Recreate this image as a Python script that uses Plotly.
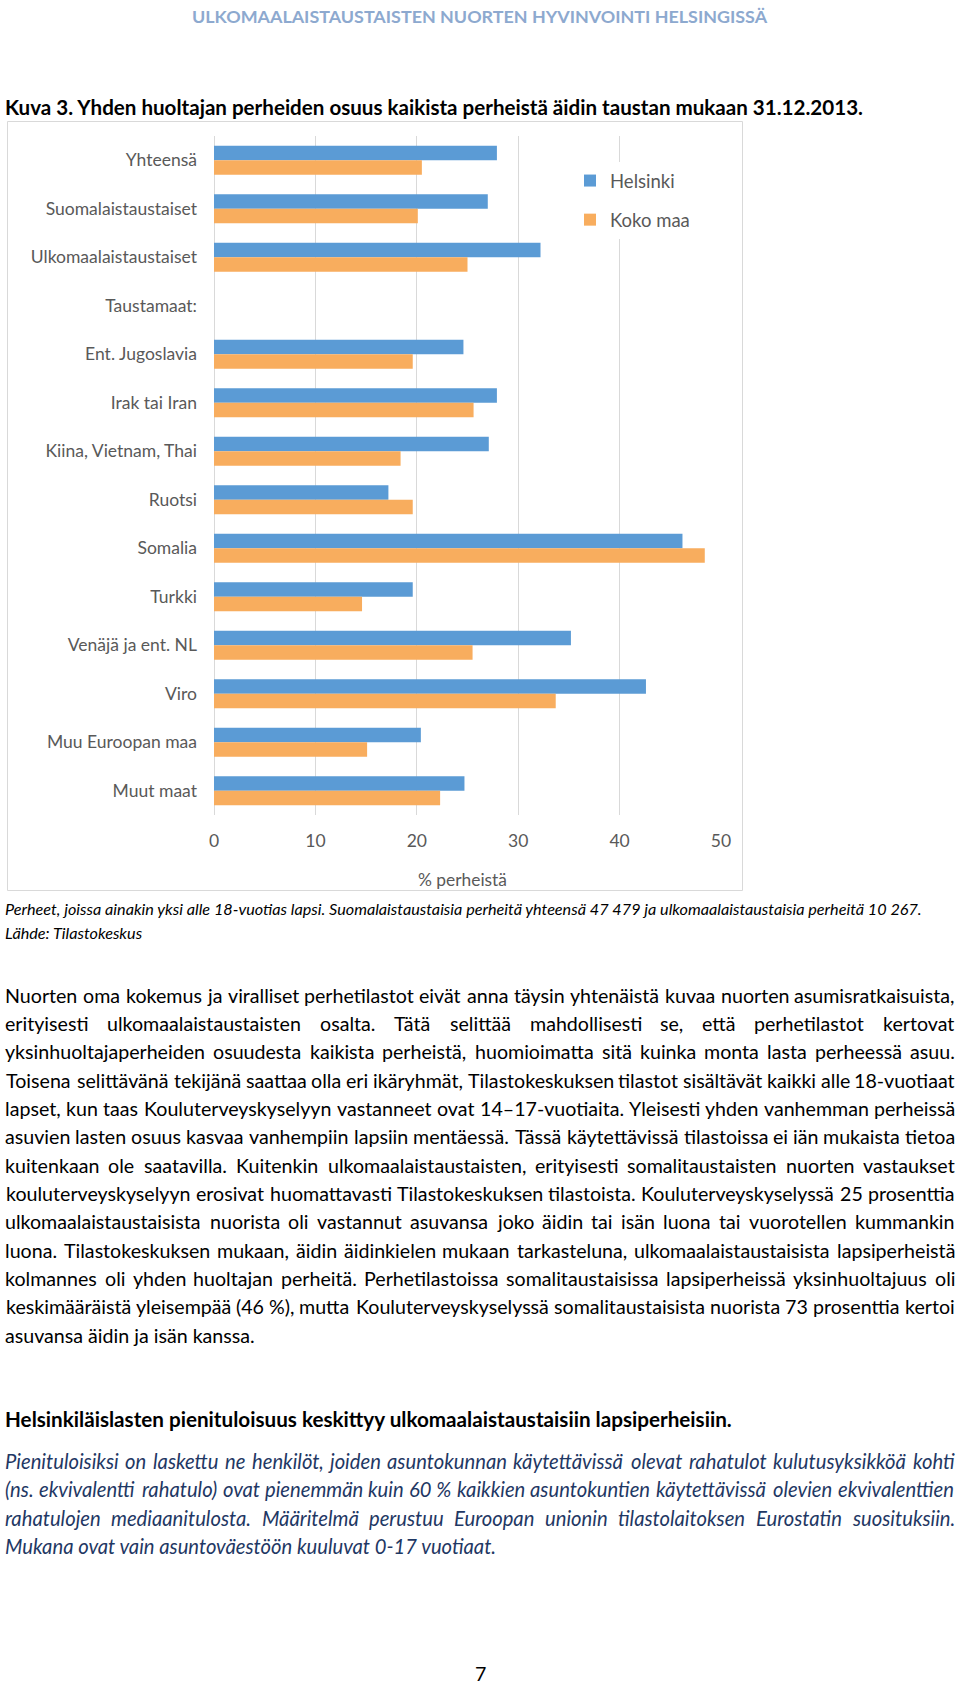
import os, glob, struct
import plotly.graph_objects as go

# ---------------- data ----------------
categories = ["Yhteensä", "Suomalaistaustaiset", "Ulkomaalaistaustaiset", "Taustamaat:",
              "Ent. Jugoslavia", "Irak tai Iran", "Kiina, Vietnam, Thai", "Ruotsi", "Somalia",
              "Turkki", "Venäjä ja ent. NL", "Viro", "Muu Euroopan maa", "Muut maat"]
helsinki = [27.9, 27.0, 32.2, None, 24.6, 27.9, 27.1, 17.2, 46.2, 19.6, 35.2, 42.6, 20.4, 24.7]
koko_maa = [20.5, 20.1, 25.0, None, 19.6, 25.6, 18.4, 19.6, 48.4, 14.6, 25.5, 33.7, 15.1, 22.3]
series_names = ["Helsinki", "Koko maa"]
x_ticks = [0, 10, 20, 30, 40, 50]
x_title = "% perheistä"

header = "ULKOMAALAISTAUSTAISTEN NUORTEN HYVINVOINTI HELSINGISSÄ"
title = "Kuva 3. Yhden huoltajan perheiden osuus kaikista perheistä äidin taustan mukaan 31.12.2013."
caption = ["Perheet, joissa ainakin yksi alle 18-vuotias lapsi. Suomalaistaustaisia perheitä yhteensä 47 479 ja ulkomaalaistaustaisia perheitä 10 267.",
           "Lähde: Tilastokeskus"]
body = [
    "Nuorten oma kokemus ja viralliset perhetilastot eivät anna täysin yhtenäistä kuvaa nuorten asumisratkaisuista,",
    "erityisesti ulkomaalaistaustaisten osalta. Tätä selittää mahdollisesti se, että perhetilastot kertovat",
    "yksinhuoltajaperheiden osuudesta kaikista perheistä, huomioimatta sitä kuinka monta lasta perheessä asuu.",
    "Toisena selittävänä tekijänä saattaa olla eri ikäryhmät, Tilastokeskuksen tilastot sisältävät kaikki alle 18-vuotiaat",
    "lapset, kun taas Kouluterveyskyselyyn vastanneet ovat 14–17-vuotiaita. Yleisesti yhden vanhemman perheissä",
    "asuvien lasten osuus kasvaa vanhempiin lapsiin mentäessä. Tässä käytettävissä tilastoissa ei iän mukaista tietoa",
    "kuitenkaan ole saatavilla. Kuitenkin ulkomaalaistaustaisten, erityisesti somalitaustaisten nuorten vastaukset",
    "kouluterveyskyselyyn erosivat huomattavasti Tilastokeskuksen tilastoista. Kouluterveyskyselyssä 25 prosenttia",
    "ulkomaalaistaustaisista nuorista oli vastannut asuvansa joko äidin tai isän luona tai vuorotellen kummankin",
    "luona. Tilastokeskuksen mukaan, äidin äidinkielen mukaan tarkasteluna, ulkomaalaistaustaisista lapsiperheistä",
    "kolmannes oli yhden huoltajan perheitä. Perhetilastoissa somalitaustaisissa lapsiperheissä yksinhuoltajuus oli",
    "keskimääräistä yleisempää (46\u00a0%), mutta Kouluterveyskyselyssä somalitaustaisista nuorista 73 prosenttia kertoi",
    "asuvansa äidin ja isän kanssa.",
]
heading = "Helsinkiläislasten pienituloisuus keskittyy ulkomaalaistaustaisiin lapsiperheisiin."
blue_par = [
    "Pienituloisiksi on laskettu ne henkilöt, joiden asuntokunnan käytettävissä olevat rahatulot kulutusyksikköä kohti",
    "(ns. ekvivalentti rahatulo) ovat pienemmän kuin 60\u00a0% kaikkien asuntokuntien käytettävissä olevien ekvivalenttien",
    "rahatulojen mediaanitulosta. Määritelmä perustuu Euroopan unionin tilastolaitoksen Eurostatin suosituksiin.",
    "Mukana ovat vain asuntoväestöön kuuluvat 0-17 vuotiaat.",
]
page_no = "7"

# ---------------- font metrics (for justified text) ----------------
FAM = "Lato"


def find_font(fname):
    roots = ['/usr/share/fonts', '/usr/local/share/fonts',
             os.path.expanduser('~/.fonts'), os.path.expanduser('~/.local/share/fonts')]
    for r in roots:
        hits = glob.glob(os.path.join(r, '**', fname), recursive=True)
        if hits:
            return hits[0]
    return None


class Metrics:
    def __init__(self, fname, fallback=0.5):
        self.ok = False
        self.fallback = fallback
        path = find_font(fname)
        if path:
            try:
                self._parse(open(path, 'rb').read())
                self.ok = True
            except Exception:
                self.ok = False

    def _parse(self, d):
        n = struct.unpack('>H', d[4:6])[0]
        tabs = {}
        for i in range(n):
            tag, cs, off, ln = struct.unpack('>4sIII', d[12 + 16 * i:28 + 16 * i])
            tabs[tag.decode('latin1')] = off
        h = tabs['head']
        self.upem = struct.unpack('>H', d[h + 18:h + 20])[0]
        hh = tabs['hhea']
        nhm = struct.unpack('>H', d[hh + 34:hh + 36])[0]
        hm = tabs['hmtx']
        self.adv = [struct.unpack('>H', d[hm + 4 * i:hm + 4 * i + 2])[0] for i in range(nhm)]
        cm = tabs['cmap']
        nt = struct.unpack('>H', d[cm + 2:cm + 4])[0]
        best = None
        for i in range(nt):
            pid, eid, off = struct.unpack('>HHI', d[cm + 4 + 8 * i:cm + 12 + 8 * i])
            fmt = struct.unpack('>H', d[cm + off:cm + off + 2])[0]
            if fmt == 4 and (best is None or (pid == 3 and eid == 1)):
                best = cm + off
        o = best
        segx2 = struct.unpack('>H', d[o + 6:o + 8])[0]
        seg = segx2 // 2
        self.ends = struct.unpack('>%dH' % seg, d[o + 14:o + 14 + segx2])
        self.starts = struct.unpack('>%dH' % seg, d[o + 16 + segx2:o + 16 + 2 * segx2])
        self.deltas = struct.unpack('>%dh' % seg, d[o + 16 + 2 * segx2:o + 16 + 3 * segx2])
        self.rpos = o + 16 + 3 * segx2
        self.roffs = struct.unpack('>%dH' % seg, d[self.rpos:self.rpos + segx2])
        self.d = d
        self.cache = {}

    def gid(self, c):
        for i in range(len(self.ends)):
            if self.ends[i] >= c:
                if self.starts[i] > c:
                    return 0
                if self.roffs[i] == 0:
                    return (c + self.deltas[i]) & 0xFFFF
                a = self.rpos + 2 * i + self.roffs[i] + 2 * (c - self.starts[i])
                g = struct.unpack('>H', self.d[a:a + 2])[0]
                return (g + self.deltas[i]) & 0xFFFF if g else 0
        return 0

    def w(self, s, size):
        if not self.ok:
            return sum((0.25 if ch in ' \u00a0' else self.fallback) for ch in s) * size
        tot = 0
        for ch in s:
            if ch not in self.cache:
                g = self.gid(ord(ch))
                self.cache[ch] = self.adv[g] if g < len(self.adv) else self.adv[-1]
            tot += self.cache[ch]
        return tot * size / self.upem


m_reg = Metrics("Lato-Regular.ttf", 0.50)
m_it = Metrics("Lato-Italic.ttf", 0.49)
m_bold = Metrics("Lato-Bold.ttf", 0.52)

# font sizes fitted to the widths measured on the page
S_body = 250 / m_reg.w(body[-1], 1)
S_blue = 496 / m_it.w(blue_par[-1], 1)
S_title = 860 / m_bold.w(title, 1)
S_head = 730 / m_bold.w(heading, 1)
S_cap = 921 / m_it.w(caption[0], 1)
S_hdr = 580 / m_bold.w(header, 1)
S_cat = 167 / m_reg.w("Ulkomaalaistaustaiset", 1)
S_leg = 65 / m_reg.w("Helsinki", 1)
S_axt = 89 / m_reg.w(x_title, 1)

# ---------------- page geometry ----------------
W, H = 960, 1685
ML, MR, MT, MB = 214, 239, 136, 870
PW, PH = W - ML - MR, H - MT - MB
TEXT_L, TEXT_R = 5, 955


def px(x):
    return (x - ML) / PW


def py(y):
    return (H - MB - y) / PH


annotations = []


def ann(x, y, text, size, color="#000000", xanchor="left", weight="normal", style="normal", xoff=0.10,
        yanchor="middle"):
    annotations.append(dict(
        x=px(x), y=py(y + xoff * size), xref="paper", yref="paper", text=text, showarrow=False,
        xanchor=xanchor, yanchor=yanchor, borderpad=0, borderwidth=0,
        font=dict(family=FAM, size=size, color=color, weight=weight, style=style)))


def text_line(line, y, size, metrics, justify, color="#000000", style="normal", weight="normal"):
    words = line.split(' ')
    if not justify or len(words) == 1:
        ann(TEXT_L, y, line, size, color, "left", weight, style, 0.13)
        return
    widths = [metrics.w(wd, size) for wd in words]
    gap = (TEXT_R - TEXT_L - sum(widths)) / (len(words) - 1)
    x = TEXT_L
    for wd, wdt in zip(words, widths):
        ann(x + wdt / 2, y, wd, size, color, "center", weight, style, 0.13)
        x += wdt + gap


# header, title
ann(480, 16.5, header, S_hdr, "#8DA9CF", "center", "bold", xoff=0.0)
ann(TEXT_L, 105, title, S_title, "#000000", "left", "bold", xoff=0.08)

# caption under the chart
ann(TEXT_L, 907, caption[0], S_cap, "#000000", "left", style="italic", xoff=0.1)
ann(TEXT_L, 931, caption[1], S_cap, "#000000", "left", style="italic", xoff=0.1)

# body paragraph (justified)
for i, line in enumerate(body):
    text_line(line, 992.7 + i * 28.33, S_body, m_reg, i < len(body) - 1)

# heading
ann(TEXT_L, 1416.7, heading, S_head, "#000000", "left", "bold", xoff=0.1)

# blue italic definition paragraph (justified)
for i, line in enumerate(blue_par):
    text_line(line, 1458.3 + i * 28.33, S_blue, m_it, i < len(blue_par) - 1,
              color="#1F3864", style="italic")

# page number (box bottom kept inside the page)
ann(480, 1684.5, page_no, S_body, "#000000", "center", xoff=0.0, yanchor="bottom")

# axis title
ann(462, 878, x_title, S_axt, "#595959", "center", xoff=0.1)

# ---------------- chart ----------------
fig = go.Figure()
fig.add_trace(go.Bar(y=categories, x=helsinki, name=series_names[0], orientation="h",
                     marker=dict(color="#5B9BD5", line=dict(width=0)), legendgroup="a"))
fig.add_trace(go.Bar(y=categories, x=koko_maa, name=series_names[1], orientation="h",
                     marker=dict(color="#F8AD5E", line=dict(width=0)), legendgroup="b"))

shapes = [dict(type="rect", xref="paper", yref="paper", x0=px(7.5), x1=px(742.5), y0=py(121.5), y1=py(890.5),
               line=dict(color="#D9D9D9", width=1), fillcolor="rgba(0,0,0,0)", layer="below")]

fig.update_layout(
    width=W, height=H, margin=dict(l=ML, r=MR, t=MT, b=MB, autoexpand=False),
    paper_bgcolor="white", plot_bgcolor="white",
    barmode="group", bargap=0.4, bargroupgap=0.0,
    font=dict(family=FAM, color="#595959"),
    xaxis=dict(range=[0, 50], tickvals=x_ticks, showgrid=True, gridcolor="#D9D9D9", gridwidth=1,
               zeroline=True, zerolinecolor="#D9D9D9", zerolinewidth=1, showline=False,
               ticks="", tickfont=dict(family=FAM, size=S_cat, color="#595959"), ticklabelstandoff=13,
               fixedrange=True),
    yaxis=dict(autorange="reversed", showgrid=False, zeroline=False, showline=False, ticks="",
               tickfont=dict(family=FAM, size=S_cat, color="#595959"), ticklabelstandoff=16,
               fixedrange=True),
    legend=dict(x=px(570), y=py(162), xanchor="left", yanchor="top", bgcolor="white",
                font=dict(family=FAM, size=S_leg, color="#595959"), tracegroupgap=12,
                itemclick=False, itemdoubleclick=False),
    showlegend=True,
    annotations=annotations,
    shapes=shapes,
)

# the page itself has no margin: the figure fills the window from its top-left corner
fig.write_html("out.html", config={"displayModeBar": False},
               post_script="document.body.style.margin='0';document.body.style.padding='0';")
